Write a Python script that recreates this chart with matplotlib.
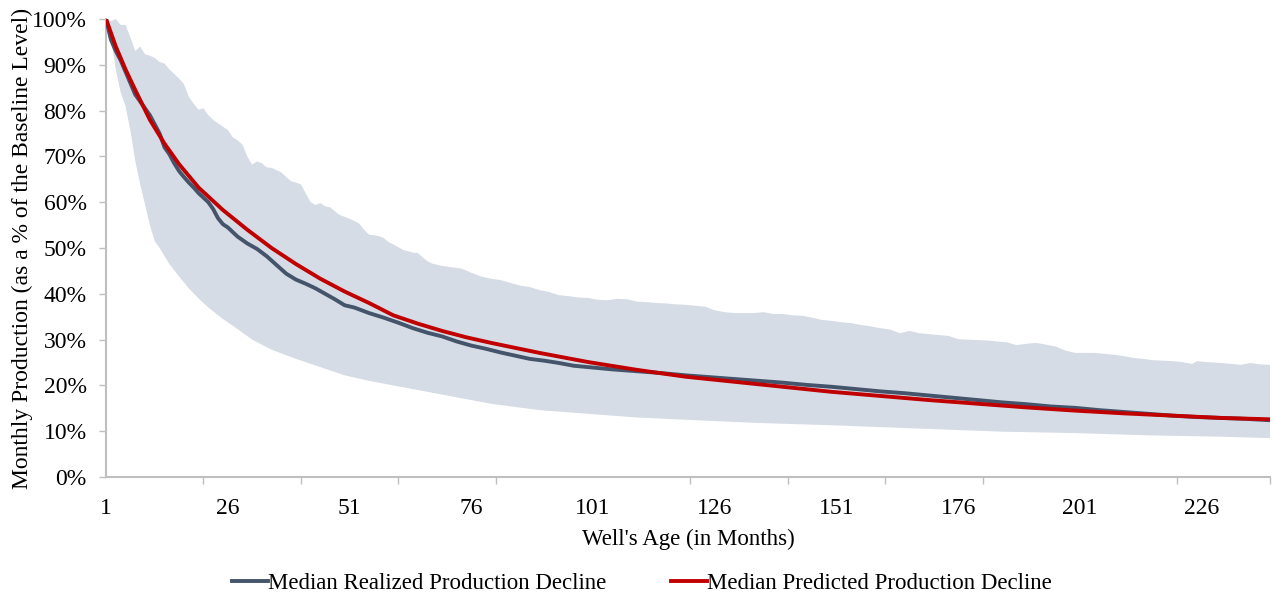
import matplotlib.pyplot as plt
from matplotlib.ticker import FuncFormatter

# well age in months and production as % of baseline
band_months = [1, 2, 3, 4, 5, 6, 7, 8, 9, 10, 11, 12, 14, 16, 18, 20, 22, 25, 28, 31, 35,
               40, 45, 50, 55, 60, 70, 80, 90, 100, 110, 120, 135, 150, 165, 185, 200,
               215, 230, 240]
band_low = [100, 96, 89, 84, 81, 75.7, 69, 64, 59.5, 55, 51.5, 50, 46.5, 43.8, 41.2, 39,
            37, 34.5, 32.3, 30, 27.8, 25.8, 24, 22.2, 21, 20, 18, 16, 14.6, 13.8, 13,
            12.5, 11.8, 11.3, 10.7, 9.9, 9.6, 9.1, 8.8, 8.5]

up_months = [1, 2, 3, 4, 5, 6, 7, 8, 9, 10, 11, 12, 13, 14, 15, 16, 17, 18, 19, 20, 21, 22,
             23, 24, 25, 26, 27, 28, 29, 30, 31, 32, 33, 34, 35, 36, 37, 38, 39, 40, 41, 42,
             43, 44, 45, 46, 47, 48, 49, 50, 51, 52, 53, 54, 55, 56, 57, 58, 59, 60, 61, 62,
             63, 64, 65, 66, 67, 68, 70, 72, 74, 76, 78, 80, 82, 84, 86, 88, 90, 92, 94, 96,
             98, 100, 102, 104, 106, 108, 110, 112, 114, 116, 118, 120, 122, 124, 126, 128,
             130, 132, 134, 136, 138, 140, 142, 144, 146, 148, 150, 152, 154, 156, 158, 160,
             162, 164, 166, 168, 170, 172, 174, 176, 178, 180, 182, 184, 186, 188, 190, 192,
             194, 196, 198, 200, 202, 204, 206, 208, 210, 212, 214, 216, 218, 220, 222, 224,
             225, 227, 230, 232, 234, 236, 238, 240]
band_up = [100, 99.5, 100, 98.7, 98.7, 96, 93, 94, 92.3, 92, 91.5, 90.6, 90.3, 89, 88, 87,
           85.8, 83, 81.5, 80.2, 80.5, 79, 78, 77.2, 76.5, 75.8, 74.2, 73.5, 72.6, 70, 68.2,
           68.9, 68.5, 67.6, 67.5, 67, 66.5, 65.5, 64.6, 64.3, 63.9, 62, 60, 59.4, 59.8, 59.1,
           58.9, 58, 57.2, 56.8, 56.4, 55.9, 55.3, 54, 52.9, 52.8, 52.6, 52.2, 51.3, 50.8,
           50.2, 49.6, 49.3, 49, 48.9, 48, 47.1, 46.6, 46.1, 45.8, 45.5, 44.6, 43.8, 43.3, 43,
           42.4, 41.8, 41.5, 40.8, 40.4, 39.7, 39.5, 39.2, 39.1, 38.7, 38.6, 38.9, 38.8, 38.3,
           38.2, 38, 37.9, 37.7, 37.6, 37.4, 37.2, 36.4, 36, 35.8, 35.8, 35.8, 36, 35.6, 35.6,
           35.3, 35.2, 34.8, 34.3, 34.1, 33.8, 33.6, 33.2, 32.9, 32.5, 32.2, 31.4, 31.9, 31.4,
           31.2, 31, 30.8, 30.1, 30, 29.9, 29.8, 29.6, 29.4, 28.8, 29.1, 29.3, 28.9, 28.5,
           27.6, 27.1, 27.1, 27.1, 26.9, 26.7, 26.4, 26, 25.8, 25.5, 25.4, 25.3, 25.1, 24.7,
           25.3, 25.1, 24.9, 24.7, 24.5, 24.9, 24.6, 24.5]

real_months = [1, 2, 3, 4, 5, 6, 7, 8, 9, 10, 11, 12, 13, 14, 15, 16, 17, 18, 19, 20, 21, 22,
               23, 24, 25, 26, 28, 30, 32, 34, 36, 38, 40, 42, 44, 46, 48, 50, 52, 55, 58, 61,
               64, 67, 70, 73, 76, 79, 82, 85, 88, 91, 94, 97, 100, 105, 110, 115, 120, 125,
               130, 135, 140, 145, 150, 155, 160, 165, 170, 175, 180, 185, 190, 195, 200, 205,
               210, 215, 220, 225, 230, 235, 240]
realized = [100, 95.5, 93, 91, 88.5, 86, 83.5, 82, 80.5, 79, 77, 75, 72, 70.5, 68.5, 66.8,
            65.5, 64.3, 63.2, 62, 61, 60, 58.5, 56.5, 55.2, 54.5, 52.5, 51, 49.8, 48.2, 46.3,
            44.4, 43.1, 42.2, 41.2, 40, 38.8, 37.5, 37, 35.8, 34.8, 33.7, 32.5, 31.5, 30.7,
            29.6, 28.7, 28, 27.2, 26.5, 25.8, 25.4, 24.9, 24.3, 24, 23.5, 23.1, 22.7, 22.2,
            21.8, 21.4, 21, 20.6, 20.1, 19.7, 19.2, 18.7, 18.3, 17.8, 17.3, 16.8, 16.3, 15.9,
            15.4, 15.1, 14.6, 14.2, 13.8, 13.4, 13.1, 12.9, 12.7, 12.4]

pred_months = [1, 3, 5, 7, 10, 13, 16, 20, 25, 30, 35, 40, 45, 50, 55, 60, 65, 70, 75, 80,
               85, 90, 95, 100, 110, 120, 130, 140, 150, 160, 170, 180, 190, 200, 210, 220,
               230, 240]
predicted = [100, 94, 89, 84.5, 78, 72.8, 68.3, 63.2, 58.3, 54, 50, 46.5, 43.3, 40.5, 38,
             35.3, 33.5, 31.9, 30.5, 29.3, 28.2, 27.1, 26.1, 25.1, 23.4, 21.9, 20.8, 19.7,
             18.6, 17.7, 16.8, 16.0, 15.2, 14.5, 13.9, 13.4, 12.9, 12.6]

label_ticks = [1, 26, 51, 76, 101, 126, 151, 176, 201, 226]

plt.rcParams['font.family'] = ['Liberation Serif', 'DejaVu Serif']
plt.rcParams['font.size'] = 16.5

fig = plt.figure(figsize=(12.76, 5.98), dpi=100)
ax = fig.add_axes([0.0831, 0.2023, 0.9122, 0.7659])

# band: upper edge is jagged, lower edge smooth -> build polygon from both lists
poly_x = up_months + band_months[::-1]
poly_y = band_up + band_low[::-1]
ax.fill(poly_x, poly_y, color='#D6DCE5', lw=0, zorder=1)

ax.plot(real_months, realized, color='#44546A', lw=2.8, zorder=3,
        label='Median Realized Production Decline')
ax.plot(pred_months, predicted, color='#C00000', lw=2.8, zorder=4,
        label='Median Predicted Production Decline')

ax.set_xlim(1, 240)
ax.set_ylim(0, 100)
ax.set_yticks(range(0, 101, 10))
ax.yaxis.set_major_formatter(FuncFormatter(lambda v, p: f'{v:.0f}%'))

ax.set_xticks(label_ticks)
ax.set_xticks(list(range(1, 241, 20)) + [240], minor=True)
ax.tick_params(axis='x', which='major', length=0, pad=15, labelsize=17)
ax.tick_params(axis='x', which='minor', length=5, color='#BFBFBF', width=1)
ax.tick_params(axis='y', length=5, color='#BFBFBF', width=1, pad=9, labelsize=17)

for s in ['top', 'right']:
    ax.spines[s].set_visible(False)
for s in ['left', 'bottom']:
    ax.spines[s].set_color('#BFBFBF')
    ax.spines[s].set_linewidth(1.5)

ax.set_xlabel("Well's Age (in Months)", labelpad=7)
ax.set_ylabel('Monthly Production (as a % of the Baseline Level)', fontsize=17)
ax.yaxis.set_label_coords(-0.063, 0.5)

fig.legend(loc='center', bbox_to_anchor=(0.503, 0.025), ncol=2, frameon=False,
           handlelength=1.6, handletextpad=0.0, columnspacing=2.8)

fig.savefig('out.png', dpi=100)
